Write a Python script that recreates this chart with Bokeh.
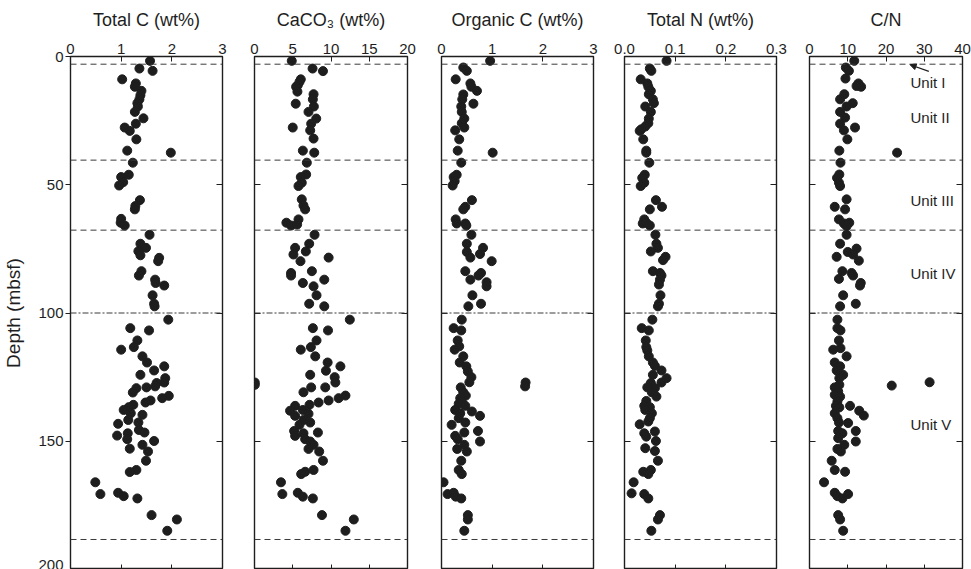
from bokeh.plotting import figure
from bokeh.layouts import row
from bokeh.models import (Range1d, LinearAxis, FixedTicker, Span, Label, Arrow,
                          NormalHead, CustomJSTickFormatter, NumeralTickFormatter)
from bokeh.embed import file_html
from bokeh.resources import INLINE

# ---- Sample data (depth in mbsf, value) ----
tc_depth = [1.7, 4.7, 5.6, 8.9, 10.5, 11.8, 13.4, 15.1, 16.7, 18.2, 19.5, 21.6, 24.1, 26.2,
            27.7, 29.0, 32.3, 36.7, 37.5, 41.4, 46.1, 47.0, 49.0, 50.3, 56.0, 58.3, 59.6,
            63.3, 64.8, 65.9, 69.5, 73.0, 74.6, 75.9, 77.5, 78.5, 79.8, 83.7, 85.4, 87.0,
            88.3, 89.3, 93.1, 96.4, 97.4, 102.6, 105.9, 106.8, 110.7, 113.3, 114.3, 116.9,
            119.3, 120.8, 122.4, 124.1, 125.4, 127.1, 127.3, 128.6, 129.0, 129.3, 131.0,
            132.3, 133.2, 134.1, 134.9, 135.8, 136.7, 137.8, 139.1, 139.7, 141.7, 143.2,
            142.7, 145.6, 146.9, 146.6, 147.8, 149.2, 149.9, 151.4, 152.9, 154.0, 157.6,
            161.2, 162.0, 166.0, 170.6, 170.1, 171.4, 172.3, 178.8, 180.5, 184.9]
tc_value = [1.57, 1.36, 1.62, 1.02, 1.29, 1.27, 1.40, 1.38, 1.36, 1.32, 1.33, 1.27, 1.44, 1.29,
            1.07, 1.17, 1.30, 1.12, 1.98, 1.23, 1.15, 1.00, 1.04, 0.96, 1.37, 1.28, 1.27,
            1.00, 0.99, 1.07, 1.56, 1.38, 1.49, 1.34, 1.38, 1.75, 1.73, 1.40, 1.35, 1.67,
            1.68, 1.85, 1.62, 1.65, 1.66, 1.93, 1.18, 1.55, 1.32, 1.25, 1.00, 1.42,
            1.51, 1.85, 1.65, 1.38, 1.87, 1.85, 1.70, 1.67, 1.50, 1.30, 1.23,
            1.94, 1.81, 1.58, 1.48, 1.24, 1.15, 1.05, 1.19, 1.42, 1.14, 0.94,
            1.34, 1.35, 1.13, 1.46, 0.92, 1.12, 1.65, 1.42, 1.17, 1.53, 1.49,
            1.30, 1.17, 0.49, 0.59, 0.94, 1.05, 1.32, 1.60, 2.10, 1.91]

caco3_depth = [1.7, 4.7, 5.7, 8.9, 9.9, 11.2, 11.8, 13.7, 14.7, 16.7, 18.4, 19.5, 21.6, 24.2,
               26.2, 27.7, 28.8, 32.0, 36.7, 37.5, 41.4, 46.0, 47.0, 49.2, 50.5, 55.7, 58.1,
               59.6, 64.8, 65.9, 65.5, 63.5, 69.5, 73.0, 74.6, 76.0, 77.2, 78.4, 79.8, 83.7,
               84.4, 85.4, 88.3, 87.0, 89.6, 93.1, 96.4, 97.4, 102.6, 105.9, 106.8, 110.7,
               113.3, 114.3, 116.9, 119.3, 120.8, 122.5, 124.1, 125.0, 127.1, 127.1, 128.0,
               129.0, 129.0, 130.9, 132.2, 133.2, 134.1, 134.9, 135.8, 136.2, 138.1, 137.8,
               139.3, 140.1, 141.7, 142.7, 143.6, 146.0, 146.6, 146.9, 147.9, 149.2, 150.1,
               151.4, 153.0, 154.0, 157.6, 161.2, 161.9, 162.8, 166.0, 170.6, 170.1, 171.6,
               172.3, 178.8, 180.5, 184.9]
caco3_value = [4.87, 7.59, 8.95, 6.05, 5.88, 5.66, 5.44, 5.61, 7.72, 7.63, 5.39, 7.76, 7.06, 8.07,
               7.41, 5.00, 7.28, 7.72, 6.32, 7.81, 6.84, 6.75, 6.05, 6.18, 5.75, 6.18, 6.40,
               6.62, 4.17, 4.78, 5.57, 5.75, 7.85, 7.15, 5.31, 6.71, 5.09, 9.69, 6.01, 7.50,
               4.78, 4.78, 6.32, 9.12, 7.72, 8.11, 7.15, 9.12, 12.46, 7.63, 9.61, 8.11,
               7.37, 6.05, 7.94, 9.56, 11.23, 9.34, 7.28, 10.48, 10.57, 0.04, 0.04,
               9.25, 7.41, 6.40, 11.89, 11.00, 9.69, 8.38, 7.19, 5.31, 4.65, 6.32,
               7.06, 5.31, 6.40, 7.28, 5.88, 5.18, 8.29, 6.40, 5.31, 6.62, 7.28,
               7.72, 7.06, 8.46, 8.95, 7.72, 6.62, 6.10, 3.46, 3.64, 5.66, 6.32,
               7.63, 8.82, 12.98, 11.89]

orgc_depth = [1.7, 4.3, 5.6, 8.9, 10.5, 11.8, 13.4, 14.8, 16.7, 18.4, 19.5, 21.6, 24.2, 26.0,
              27.7, 28.8, 32.3, 36.7, 37.5, 41.4, 46.1, 47.0, 48.6, 50.3, 56.0, 58.6, 59.6,
              63.5, 65.1, 65.1, 65.9, 69.5, 73.0, 74.6, 76.2, 77.0, 78.4, 79.8, 83.7, 84.4,
              85.4, 87.0, 88.0, 89.6, 93.1, 96.4, 97.4, 102.6, 105.9, 106.8, 110.7, 113.0,
              114.3, 116.9, 119.3, 120.8, 122.8, 125.0, 127.0, 127.1, 128.6, 129.0, 130.9,
              132.2, 133.2, 134.5, 135.4, 136.2, 137.8, 138.4, 139.1, 140.1, 141.0, 142.7,
              143.6, 146.0, 146.6, 147.9, 149.2, 150.1, 151.4, 153.0, 154.0, 157.6, 161.2,
              162.8, 166.0, 170.6, 170.1, 171.6, 172.3, 178.8, 180.5, 184.9]
orgc_value = [0.96, 0.43, 0.50, 0.28, 0.57, 0.59, 0.70, 0.43, 0.41, 0.63, 0.39, 0.40, 0.45, 0.40,
              0.45, 0.27, 0.35, 0.32, 1.01, 0.39, 0.30, 0.24, 0.26, 0.22, 0.60, 0.47, 0.43,
              0.28, 0.30, 0.47, 0.49, 0.59, 0.50, 0.82, 0.50, 0.76, 0.57, 0.99, 0.47, 0.78,
              0.73, 0.57, 0.89, 0.89, 0.61, 0.78, 0.53, 0.40, 0.24, 0.39, 0.32, 0.35,
              0.26, 0.43, 0.36, 0.49, 0.52, 0.59, 0.55, 1.66, 1.65, 0.38, 0.43,
              0.48, 0.37, 0.40, 0.34, 0.47, 0.27, 0.60, 0.37, 0.76, 0.34, 0.47,
              0.20, 0.72, 0.45, 0.27, 0.32, 0.76, 0.45, 0.31, 0.50, 0.39, 0.34,
              0.40, 0.04, 0.12, 0.24, 0.28, 0.39, 0.52, 0.52, 0.45]

tn_depth = [1.7, 4.7, 5.6, 8.9, 10.5, 11.8, 13.4, 14.7, 16.7, 18.2, 19.5, 21.6, 24.2, 26.0,
            27.3, 28.4, 29.0, 32.3, 36.7, 37.5, 41.4, 46.1, 47.3, 49.2, 50.5, 56.0, 58.6,
            59.6, 63.5, 65.1, 64.8, 65.9, 69.5, 73.0, 74.6, 76.0, 78.1, 79.4, 83.7, 84.4,
            85.4, 87.0, 88.9, 93.1, 96.4, 97.4, 102.6, 105.9, 106.8, 110.7, 113.3, 114.6,
            116.9, 119.3, 120.6, 122.4, 124.1, 125.4, 127.1, 127.3, 129.0, 129.3, 130.9,
            132.6, 134.3, 136.2, 136.7, 137.8, 139.1, 141.0, 143.4, 142.3, 146.2, 146.9,
            148.2, 149.9, 152.7, 153.8, 157.6, 161.2, 161.9, 162.8, 166.0, 170.3, 170.6,
            172.3, 178.8, 180.5, 184.9]
tn_value = [0.083, 0.050, 0.053, 0.032, 0.045, 0.047, 0.052, 0.048, 0.056, 0.058, 0.041, 0.052,
            0.048, 0.047, 0.041, 0.033, 0.030, 0.037, 0.043, 0.043, 0.049, 0.040, 0.035,
            0.039, 0.032, 0.062, 0.074, 0.050, 0.039, 0.036, 0.043, 0.050, 0.061, 0.063,
            0.066, 0.052, 0.081, 0.076, 0.056, 0.070, 0.073, 0.070, 0.068, 0.071, 0.068,
            0.066, 0.055, 0.034, 0.048, 0.042, 0.043, 0.045, 0.048, 0.056, 0.060, 0.073,
            0.056, 0.083, 0.073, 0.052, 0.045, 0.060, 0.054, 0.063, 0.043, 0.039, 0.050,
            0.041, 0.054, 0.050, 0.030, 0.047, 0.060, 0.039, 0.043, 0.062, 0.041, 0.060,
            0.066, 0.052, 0.037, 0.047, 0.018, 0.014, 0.039, 0.047, 0.070, 0.066, 0.053]

cn_depth = [1.7, 4.3, 5.6, 8.6, 10.5, 11.8, 11.5, 14.7, 16.7, 18.2, 19.5, 21.6, 23.8, 26.2,
            27.7, 28.8, 32.3, 36.7, 37.5, 41.4, 46.0, 47.3, 49.2, 50.5, 55.7, 58.6, 59.6,
            63.5, 65.1, 64.8, 66.1, 69.5, 73.0, 74.9, 76.2, 78.1, 77.2, 79.6, 83.7, 84.4,
            85.4, 86.7, 88.3, 89.3, 93.1, 96.4, 97.4, 102.6, 105.9, 106.8, 110.7, 114.3,
            113.7, 116.9, 119.3, 120.8, 122.4, 124.1, 125.4, 129.0, 128.0, 128.3, 127.0,
            130.6, 131.9, 132.6, 134.5, 136.2, 136.2, 136.8, 138.1, 140.0, 139.1, 141.0,
            142.7, 142.9, 146.0, 146.0, 146.9, 148.8, 150.1, 151.4, 153.0, 154.0, 157.6,
            161.2, 161.9, 166.0, 170.1, 171.4, 172.3, 170.6, 178.8, 180.5, 184.9]
cn_value = [11.7, 9.5, 10.3, 9.4, 12.8, 13.5, 12.3, 9.1, 8.0, 11.3, 9.7, 8.0, 9.3, 8.0,
            11.9, 9.0, 9.9, 7.8, 22.9, 8.1, 7.8, 7.2, 7.7, 8.0, 9.7, 6.6, 9.3,
            7.7, 9.0, 10.4, 9.7, 9.7, 8.0, 12.3, 10.0, 7.1, 11.4, 12.9, 8.6, 11.0,
            11.4, 7.7, 13.4, 13.2, 8.8, 12.1, 8.0, 7.3, 7.3, 8.1, 7.7, 6.2,
            8.1, 9.7, 6.6, 8.0, 7.1, 8.8, 7.8, 6.6, 7.8, 21.5, 31.4,
            7.5, 6.6, 8.0, 7.3, 6.9, 10.6, 7.8, 13.0, 14.2, 6.6, 7.3,
            7.7, 10.1, 12.1, 7.5, 8.6, 7.5, 12.1, 9.1, 7.3, 8.2, 5.8,
            6.6, 9.3, 3.8, 6.6, 7.3, 8.6, 10.1, 7.5, 8.0, 8.8]

# Lithostratigraphic unit boundaries (mbsf) and labels
unit_bounds = [3.0, 40.4, 67.7, 100.0, 188.3]
unit_names = ["Unit I", "Unit II", "Unit III", "Unit IV", "Unit V"]
unit_label_depths = [10.0, 23.7, 56.0, 84.7, 143.5]

titles = ["Total C (wt%)", "CaCO\u2083 (wt%)", "Organic C (wt%)", "Total N (wt%)", "C/N"]
x_limits = [(0, 3), (0, 20), (0, 3), (0, 0.3), (0, 40)]
x_ticks = [[0, 1, 2, 3], [0, 5, 10, 15, 20], [0, 1, 2, 3], [0, 0.1, 0.2, 0.3], [0, 10, 20, 30, 40]]
depth_ticks = [0, 50, 100, 150, 200]

series = [(tc_value, tc_depth), (caco3_value, caco3_depth), (orgc_value, orgc_depth),
          (tn_value, tn_depth), (cn_value, cn_depth)]

FONT = "Liberation Sans"
INK = "#1e1e1e"
H = 569

# frame left borders / right borders per panel (pixels)
left_borders = [69, 16, 18, 15, 17]
right_borders = [16, 16, 16, 16, 9]
frame_widths = [153, 153, 152, 152, 153]


def blank_labels():
    return CustomJSTickFormatter(code="return ''")


panels = []
for i in range(5):
    w = left_borders[i] + frame_widths[i] + right_borders[i]
    p = figure(width=w, height=H, x_range=Range1d(*x_limits[i]), y_range=Range1d(200, 0),
               x_axis_location="above", toolbar_location=None, output_backend="svg",
               min_border_left=left_borders[i], min_border_right=right_borders[i],
               min_border_top=56, min_border_bottom=0)
    p.title.text = titles[i]
    p.title.align = "center"
    p.title.vertical_align = "top"
    p.title.text_font = FONT
    p.title.text_font_size = "18px"
    p.title.text_font_style = "normal"
    p.title.text_color = INK
    p.title.standoff = 17
    p.outline_line_color = INK
    p.outline_line_width = 1.4
    p.outline_line_alpha = 1
    p.xgrid.visible = False
    p.ygrid.visible = False
    p.background_fill_color = "white"
    p.border_fill_color = "white"

    # top axis with tick labels
    xa = p.xaxis[0]
    xa.ticker = FixedTicker(ticks=x_ticks[i])
    xa.major_tick_in = 5
    xa.major_tick_out = 0
    xa.minor_tick_line_color = None
    xa.axis_line_color = None
    xa.major_tick_line_color = INK
    xa.major_label_text_font = FONT
    xa.major_label_text_font_size = "15px"
    xa.major_label_text_color = INK
    xa.major_label_standoff = 3
    if i == 3:
        xa.formatter = NumeralTickFormatter(format="0.0")

    # bottom ticks (no labels)
    xb = LinearAxis(ticker=FixedTicker(ticks=x_ticks[i][1:-1]), formatter=blank_labels(),
                    major_tick_in=5, major_tick_out=0, minor_tick_line_color=None,
                    axis_line_color=None, major_label_standoff=0,
                    major_label_text_font_size="0px", major_tick_line_color=INK)
    p.add_layout(xb, "below")

    # left axis
    ya = p.yaxis[0]
    ya.minor_tick_line_color = None
    ya.axis_line_color = None
    ya.major_tick_line_color = INK
    if i == 0:
        ya.ticker = FixedTicker(ticks=depth_ticks)
        ya.major_tick_in = 0
        ya.major_tick_out = 5
        ya.major_label_text_font = FONT
        ya.major_label_text_font_size = "15px"
        ya.major_label_text_color = INK
        ya.major_label_standoff = 2
        ya.axis_label = "Depth (mbsf)"
        ya.axis_label_text_font = FONT
        ya.axis_label_text_font_size = "19px"
        ya.axis_label_text_font_style = "normal"
        ya.axis_label_text_color = INK
        ya.axis_label_standoff = 11
    else:
        ya.ticker = FixedTicker(ticks=depth_ticks[1:-1])
        ya.major_tick_in = 6
        ya.major_tick_out = 0
        ya.formatter = blank_labels()
        ya.major_label_text_font_size = "0px"
        ya.major_label_standoff = 0

    # right ticks (no labels)
    yr = LinearAxis(ticker=FixedTicker(ticks=depth_ticks[1:-1]), formatter=blank_labels(),
                    major_tick_in=6, major_tick_out=0, minor_tick_line_color=None,
                    axis_line_color=None, major_label_standoff=0,
                    major_label_text_font_size="0px", major_tick_line_color=INK)
    p.add_layout(yr, "right")

    # unit boundaries
    for b in unit_bounds:
        dash = "6 2 2 2" if b == 100.0 else "6 4"
        p.add_layout(Span(location=b, dimension="width", line_color="#3a3a3a",
                          line_width=1, line_dash=dash))

    xs, ds = series[i]
    p.scatter(xs, ds, size=9, color=INK, line_color=INK)

    if i == 4:
        for name, d in zip(unit_names, unit_label_depths):
            p.add_layout(Label(x=26.4, y=d, text=name, text_font=FONT, text_font_size="15px",
                               text_color=INK, text_baseline="middle", text_align="left"))
        p.add_layout(Arrow(x_start=31.2, y_start=5.8, x_end=26.3, y_end=3.2,
                           line_color=INK, line_width=1.2,
                           end=NormalHead(size=6, fill_color=INK, line_color=INK)))
    panels.append(p)

layout = row(*panels, spacing=0)
open("out.html", "w").write(file_html(layout, INLINE))
